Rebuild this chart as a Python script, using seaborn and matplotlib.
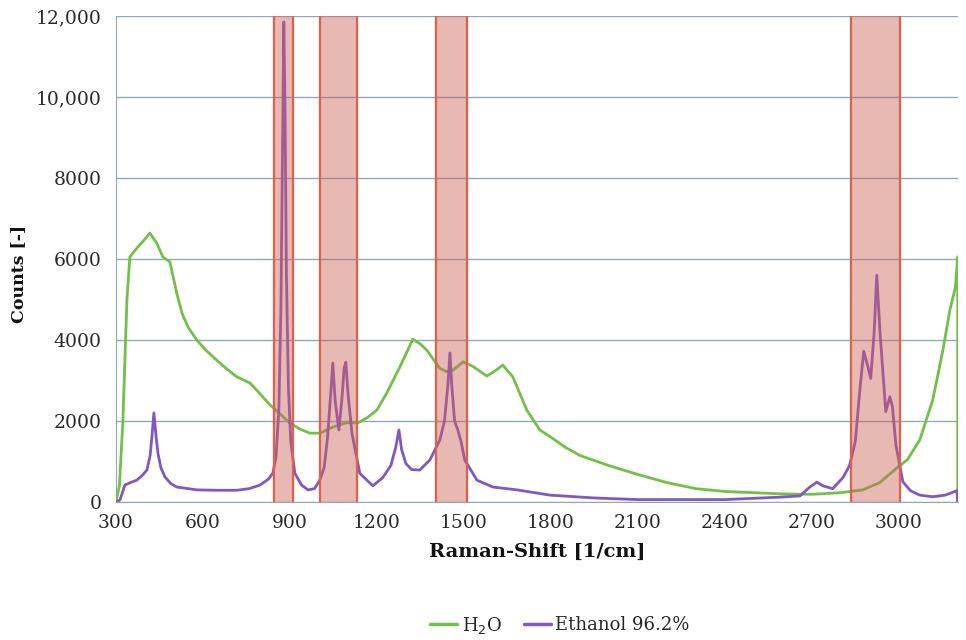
import matplotlib
matplotlib.use("Agg")
import matplotlib.pyplot as plt
from matplotlib.ticker import FuncFormatter
import seaborn as sns
import pandas as pd

# Raman spectra
water_x = [300, 312, 324, 338, 348, 372, 395, 417, 440, 462, 486, 510, 528, 550, 579, 610, 648,
           680, 717, 762, 800, 831, 870, 900, 935, 969, 1003, 1048, 1096, 1134, 1170, 1200, 1234,
           1279, 1324, 1350, 1372, 1417, 1440, 1462, 1497, 1531, 1579, 1610, 1634, 1669, 1717,
           1762, 1800, 1850, 1900, 2000, 2100, 2200, 2300, 2400, 2500, 2600, 2700, 2800, 2876,
           2934, 2990, 3030, 3072, 3117, 3152, 3176, 3195, 3203, 3203]
water_y = [0, 400, 2000, 5000, 6050, 6270, 6450, 6640, 6400, 6050, 5930, 5150, 4660, 4300, 4000,
           3750, 3500, 3300, 3090, 2940, 2650, 2400, 2150, 1950, 1800, 1700, 1700, 1850, 1960,
           1950, 2100, 2270, 2690, 3330, 4020, 3900, 3750, 3300, 3220, 3250, 3460, 3350, 3110,
           3250, 3380, 3090, 2270, 1780, 1600, 1350, 1150, 900, 680, 480, 330, 260, 230, 200,
           190, 230, 300, 480, 820, 1050, 1530, 2520, 3750, 4740, 5300, 6050, 0]

ethanol_x = [300, 314, 331, 350, 372, 390, 407, 418, 424, 431, 438, 445, 455, 469, 490, 510, 579,
             650, 717, 760, 797, 825, 841, 852, 862, 869, 875, 879, 883, 888, 895, 903, 917, 940,
             962, 985, 1003, 1018, 1030, 1041, 1048, 1056, 1069, 1080, 1087, 1093, 1100, 1114,
             1141, 1186, 1220, 1248, 1265, 1276, 1285, 1300, 1320, 1348, 1383, 1417, 1433, 1445,
             1452, 1458, 1468, 1479, 1490, 1503, 1545, 1600, 1683, 1797, 1950, 2100, 2400, 2590,
             2659, 2693, 2717, 2738, 2772, 2807, 2830, 2850, 2866, 2879, 2893, 2903, 2915, 2924,
             2935, 2955, 2969, 2978, 2990, 3014, 3040, 3072, 3117, 3160, 3200, 3203]
ethanol_y = [0, 50, 420, 480, 540, 650, 790, 1150, 1600, 2200, 1650, 1200, 850, 620, 450, 370, 300,
             290, 290, 330, 420, 560, 710, 1100, 2300, 4800, 9000, 11850, 9800, 5600, 2800, 1500,
             710, 420, 300, 330, 540, 850, 1600, 2700, 3430, 2500, 1780, 2600, 3300, 3450, 2700,
             1700, 710, 400, 600, 900, 1350, 1780, 1300, 950, 800, 790, 1040, 1530, 2000, 2900,
             3680, 2900, 2000, 1780, 1500, 1040, 540, 370, 300, 170, 100, 60, 60, 120, 150, 370,
             490, 400, 330, 600, 900, 1500, 2800, 3720, 3350, 3050, 4200, 5600, 4200, 2230, 2600,
             2350, 1400, 500, 280, 170, 130, 170, 280, 0]

# highlighted bands [1/cm]
band_lo = [845, 1005, 1405, 2835]
band_hi = [910, 1130, 1510, 3005]

sns.set_style("white")
plt.rcParams["font.family"] = ["DejaVu Serif"]

fig, ax = plt.subplots(figsize=(9.66, 6.4), dpi=100)
fig.subplots_adjust(left=0.120, right=0.992, top=0.975, bottom=0.2156)

water = pd.DataFrame({"x": water_x, "y": water_y})
eth = pd.DataFrame({"x": ethanol_x, "y": ethanol_y})
sns.lineplot(data=water, x="x", y="y", ax=ax, color="#72c04a", lw=2.0,
             estimator=None, sort=False, label="H$_2$O", zorder=3)
sns.lineplot(data=eth, x="x", y="y", ax=ax, color="#8257c2", lw=2.0,
             estimator=None, sort=False, label="Ethanol 96.2%", zorder=3)

for lo, hi in zip(band_lo, band_hi):
    ax.axvspan(lo, hi, facecolor="#cc6257", alpha=0.45, lw=0, zorder=4)
    ax.axvline(lo, color="#e0604c", lw=1.6, zorder=5)
    ax.axvline(hi, color="#e0604c", lw=1.6, zorder=5)

ax.set_xlim(300, 3205)
ax.set_ylim(0, 12000)
ax.set_xticks(range(300, 3001, 300))
ax.set_yticks(range(0, 12001, 2000))
ax.yaxis.set_major_formatter(FuncFormatter(lambda v, p: f"{int(v):,}" if v >= 10000 else f"{int(v)}"))

grid_c = "#8fa9b8"
ax.grid(axis="y", color=grid_c, lw=1.0, zorder=1)
ax.set_axisbelow(True)
for s in ["top", "right"]:
    ax.spines[s].set_visible(False)
ax.spines["left"].set_color(grid_c)
ax.spines["bottom"].set_color(grid_c)
ax.tick_params(axis="both", colors=grid_c, length=5, labelcolor="#2a2a2a", labelsize=13.5)
ax.tick_params(axis="y", length=7)

ax.set_xlabel("Raman-Shift [1/cm]", fontsize=14, fontweight="bold", color="#111111", labelpad=8)
ax.set_ylabel("Counts [-]", fontsize=12.5, fontweight="bold", color="#111111")
ax.yaxis.set_label_coords(-0.106, 0.47)

ax.get_legend().remove()
h, l = ax.get_legend_handles_labels()
leg = fig.legend(h, l, loc="center", bbox_to_anchor=(560 / 966, 1 - 625 / 640), ncol=2,
                 frameon=False, fontsize=13, handlelength=1.5, handletextpad=0.25,
                 columnspacing=1.2)
for line in leg.get_lines():
    line.set_linewidth(2.5)

fig.savefig("out.png", dpi=100)
